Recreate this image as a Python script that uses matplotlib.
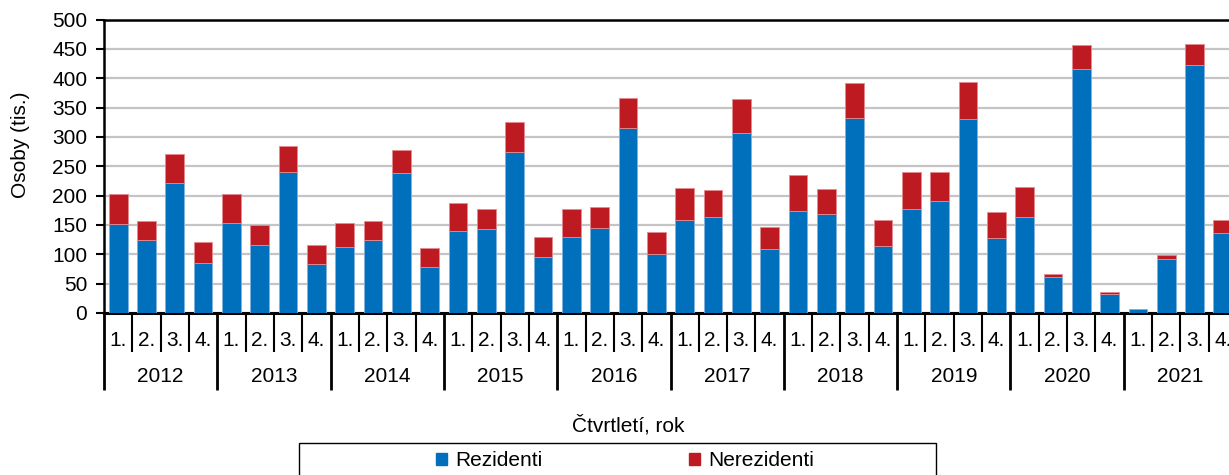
import matplotlib
matplotlib.use("Agg")
import matplotlib.pyplot as plt
from matplotlib.patches import Rectangle, Patch

plt.rcParams['font.family'] = ['Liberation Sans', 'DejaVu Sans']

years = ['2012', '2013', '2014', '2015', '2016', '2017', '2018', '2019', '2020', '2021']
quarters = ['1.', '2.', '3.', '4.']

# Residents (thousands) per quarter, 2012 Q1 .. 2021 Q4
rezidenti = [151, 124, 222, 85,
             153, 116, 240, 83,
             113, 125, 238, 79,
             140, 143, 275, 96,
             130, 144, 315, 101,
             158, 164, 307, 109,
             173, 168, 332, 114,
             177, 190, 330, 127,
             163, 62, 415, 32,
             6, 92, 423, 136]

# Totals (residents + non-residents), thousands
celkem = [203, 157, 271, 121,
          202, 150, 284, 115,
          154, 156, 278, 110,
          187, 177, 325, 130,
          177, 181, 366, 138,
          213, 210, 364, 147,
          235, 211, 391, 159,
          241, 240, 394, 172,
          215, 66, 456, 35,
          7, 98, 458, 158]

nerezidenti = [t - r for t, r in zip(celkem, rezidenti)]

W, H = 1229, 475
fig = plt.figure(figsize=(W / 100, H / 100), dpi=100)

# Plot area in pixels: left 104, right 1237 (runs past the edge), top 19.5, bottom 313
left, right, top, bottom = 104, 1237, 19.5, 313
ax = fig.add_axes([left / W, (H - bottom) / H, (right - left) / W, (bottom - top) / H])

blue = '#0070BC'
red = '#BE1A22'
n = len(rezidenti)
x = list(range(n))
ax.bar(x, rezidenti, width=0.66, color=blue, edgecolor='#7FB3DD', linewidth=0.6,
       label='Rezidenti', zorder=3)
ax.bar(x, nerezidenti, bottom=rezidenti, width=0.66, color=red, edgecolor='#E58A8E',
       linewidth=0.6, label='Nerezidenti', zorder=3)

ax.set_xlim(-0.5, n - 0.5)
ax.set_ylim(0, 500)
ax.set_yticks(range(0, 501, 50))
ax.tick_params(axis='y', direction='out', length=6, width=1.5, labelsize=15, pad=6)
ax.set_xticks([])
ax.yaxis.grid(True, color='#C4C4C4', linewidth=1.6, zorder=0)
ax.set_axisbelow(True)

for s in ['left', 'bottom', 'top']:
    ax.spines[s].set_color('black')
ax.spines['left'].set_linewidth(1.8)
ax.spines['bottom'].set_linewidth(2.2)
ax.spines['top'].set_linewidth(1.8)
ax.spines['right'].set_visible(False)

# Two-level category axis: quarter labels and year groups
ph = bottom - top
xt = ax.get_xaxis_transform()
q_len = 39 / ph
y_len = 77 / ph
for i in range(n + 1):
    xb = i - 0.5
    if i % 4 == 0:
        ax.plot([xb, xb], [0, -y_len], transform=xt, color='black', lw=2.0,
                clip_on=False, solid_capstyle='butt')
    else:
        ax.plot([xb, xb], [0, -q_len], transform=xt, color='black', lw=1.5,
                clip_on=False, solid_capstyle='butt')
for i in range(n):
    ax.text(i, -27 / ph, quarters[i % 4], transform=xt, ha='center', va='center',
            fontsize=15)
for k, yr in enumerate(years):
    ax.text(k * 4 + 1.5, -64 / ph, yr, transform=xt, ha='center', va='center',
            fontsize=15)

fig.text(628 / W, (H - 425) / H, 'Čtvrtletí, rok', ha='center', va='center', fontsize=15)
fig.text(21 / W, (H - 145) / H, 'Osoby (tis.)', ha='center', va='center',
         rotation=90, fontsize=15)

# Legend box (its lower edge runs past the figure)
fig.patches.append(Rectangle((299 / W, -20 / H), (936 - 299) / W, (H - 443 + 20) / H,
                             transform=fig.transFigure, fill=False,
                             edgecolor='black', linewidth=1.0))
handles = [Patch(color=blue, label='Rezidenti'), Patch(color=red, label='Nerezidenti')]
fig.legend(handles=handles, ncol=2, frameon=False, fontsize=15,
           loc='center', bbox_to_anchor=(625 / W, (H - 461) / H),
           handlelength=0.55, handleheight=0.55, handletextpad=0.4,
           columnspacing=7.0, borderpad=0)

fig.savefig('out.png', dpi=100)
